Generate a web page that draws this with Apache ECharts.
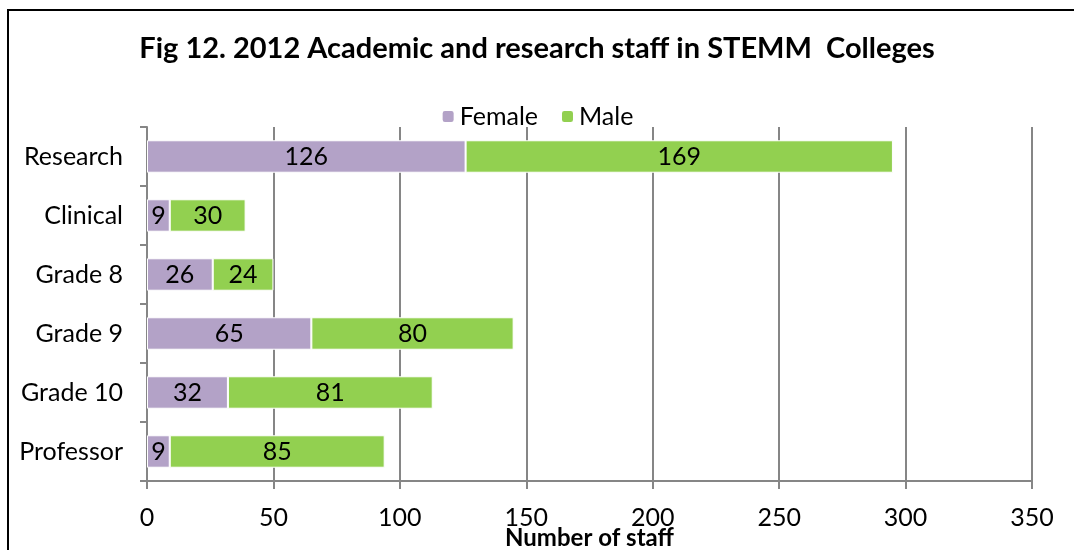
<!DOCTYPE html>
<html><head><meta charset="utf-8">
<script src="https://cdn.jsdelivr.net/npm/echarts@6/dist/echarts.min.js"></script>
<style>html,body{margin:0;padding:0;background:#fff}#c{width:1074px;height:550px}</style>
</head><body><div id="c"></div>
<script>
const categories = ["Research", "Clinical", "Grade 8", "Grade 9", "Grade 10", "Professor"];
const female = [126, 9, 26, 65, 32, 9];
const male = [169, 30, 24, 80, 81, 85];
const xTicks = [0, 50, 100, 150, 200, 250, 300, 350];
const FONT = 'Lato';
const chart = echarts.init(document.getElementById('c'), null, {renderer: 'canvas'});
const lbl = {show: true, position: 'inside', color: '#000', fontSize: 25, fontFamily: FONT};
chart.setOption({
  animation: false,
  title: {text: 'Fig 12. 2012 Academic and research staff in STEMM  Colleges', left: 'center', top: 29,
    textStyle: {fontSize: 29, fontWeight: 'bold', color: '#000', fontFamily: FONT}},
  legend: {top: 99, left: 'center', itemWidth: 13, itemHeight: 13, itemGap: 22,
    textStyle: {fontSize: 25, color: '#000', fontFamily: FONT}, data: ['Female', 'Male']},
  graphic: [{type: 'rect', shape: {x: 8, y: 10, width: 1100, height: 600}, style: {fill: 'none', stroke: '#000', lineWidth: 2}, silent: true}],
  grid: {left: 147, right: 42, top: 127, bottom: 69, outerBoundsMode: 'none', containLabel: false},
  xAxis: {type: 'value', min: 0, max: 350, interval: 50,
    name: 'Number of staff', nameLocation: 'middle', nameGap: 45, nameMoveOverlap: false,
    nameTextStyle: {fontSize: 24, fontWeight: 'bold', color: '#000', fontFamily: FONT},
    axisLine: {show: true, lineStyle: {color: '#868686', width: 2}},
    axisTick: {show: true, length: 8, lineStyle: {color: '#868686', width: 2}},
    axisLabel: {fontSize: 25, color: '#000', fontFamily: FONT, margin: 24,
      formatter: v => xTicks.includes(v) ? String(v) : ''},
    splitLine: {show: true, lineStyle: {color: '#868686', width: 2}}},
  yAxis: {type: 'category', data: categories, inverse: true,
    axisLine: {show: true, lineStyle: {color: '#868686', width: 2}},
    axisTick: {show: true, length: 7, lineStyle: {color: '#868686', width: 2}},
    axisLabel: {fontSize: 25, color: '#000', fontFamily: FONT, margin: 24}},
  series: [
    {name: 'Female', type: 'bar', stack: 's', data: female, barWidth: '55%',
      itemStyle: {color: '#B3A2C7', borderColor: '#fff', borderWidth: 1}, label: lbl},
    {name: 'Male', type: 'bar', stack: 's', data: male,
      itemStyle: {color: '#92D050', borderColor: '#fff', borderWidth: 1}, label: lbl}
  ]
});
</script></body></html>
